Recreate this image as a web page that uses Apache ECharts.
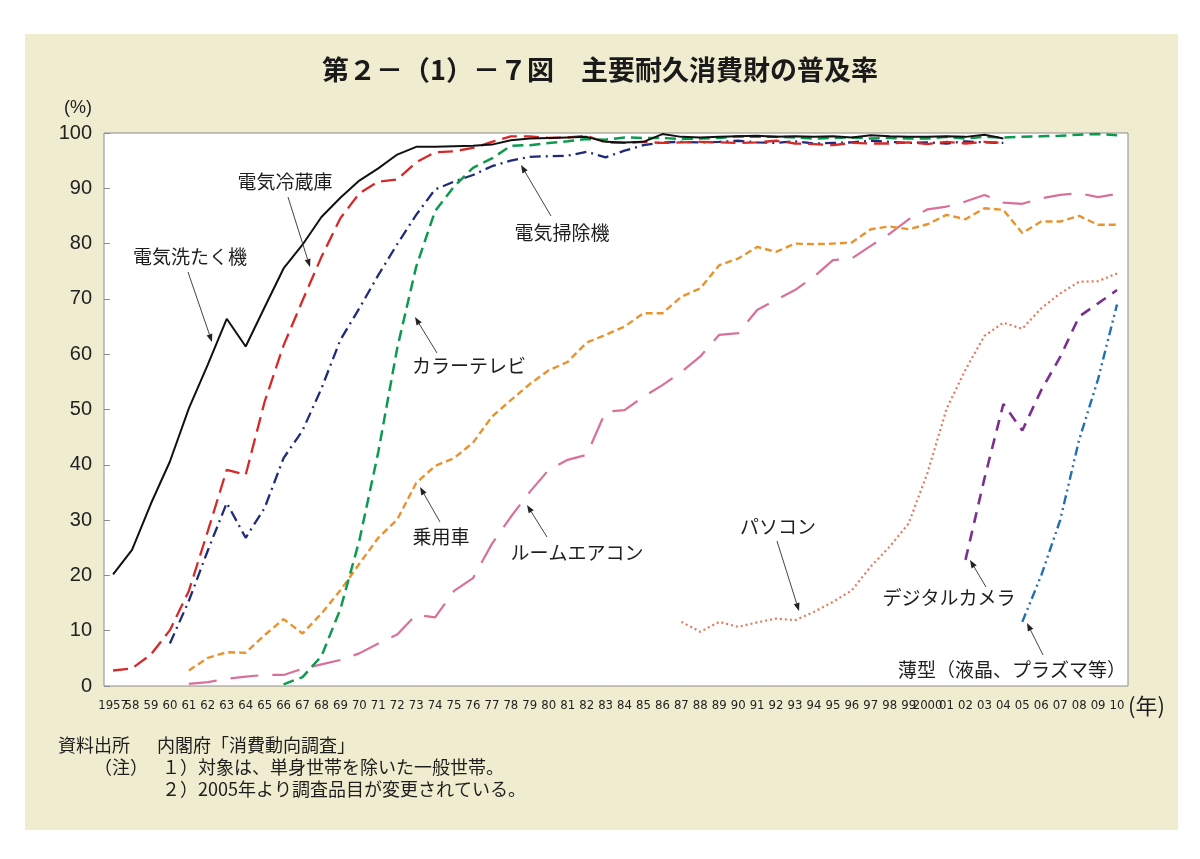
<!DOCTYPE html>
<html>
<head>
<meta charset="utf-8">
<title>主要耐久消費財の普及率</title>
<script src="https://cdn.jsdelivr.net/npm/echarts@6/dist/echarts.min.js"></script>
<style>
  html, body { margin: 0; padding: 0; background: #fff; }
  #panel { position: absolute; left: 25px; top: 34px; width: 1153px; height: 796px; background: #f0ecd0; }
  #main { position: absolute; left: 0; top: 0; width: 1200px; height: 859px; }
</style>
</head>
<body>
<div id="panel"></div>
<div id="main"></div>
<script>
// 横軸の年と目盛ラベル
var years = [1957, 1958, 1959, 1960, 1961, 1962, 1963, 1964, 1965, 1966,
             1967, 1968, 1969, 1970, 1971, 1972, 1973, 1974, 1975, 1976,
             1977, 1978, 1979, 1980, 1981, 1982, 1983, 1984, 1985, 1986,
             1987, 1988, 1989, 1990, 1991, 1992, 1993, 1994, 1995, 1996,
             1997, 1998, 1999, 2000, 2001, 2002, 2003, 2004, 2005, 2006,
             2007, 2008, 2009, 2010];
var yearLabels = ['1957', '58', '59', '60', '61', '62', '63', '64', '65', '66',
                  '67', '68', '69', '70', '71', '72', '73', '74', '75', '76',
                  '77', '78', '79', '80', '81', '82', '83', '84', '85', '86',
                  '87', '88', '89', '90', '91', '92', '93', '94', '95', '96',
                  '97', '98', '99', '2000', '01', '02', '03', '04', '05', '06',
                  '07', '08', '09', '10'];

// 普及率（%）　各系列は開始年から1年ごと
var washerStart = 1957;   // 電気洗たく機
var washer = [20.2, 24.6, 33.0, 40.6, 50.2, 58.1, 66.4, 61.4, 68.5, 75.5,
              79.8, 84.8, 88.3, 91.4, 93.6, 96.1, 97.5, 97.5, 97.6, 97.7,
              97.9, 98.7, 99.0, 99.1, 99.2, 99.3, 98.4, 98.3, 98.4, 99.8,
              99.3, 99.2, 99.3, 99.4, 99.5, 99.3, 99.4, 99.3, 99.4, 99.2,
              99.6, 99.4, 99.3, 99.3, 99.4, 99.3, 99.7, 99.0];

var fridgeStart = 1957;   // 電気冷蔵庫
var fridge = [2.8, 3.2, 5.7, 10.1, 17.2, 28.0, 39.1, 38.2, 51.4, 61.6,
              69.7, 77.6, 84.6, 89.1, 91.2, 91.6, 94.7, 96.5, 96.7, 97.3,
              98.4, 99.4, 99.4, 99.1, 99.2, 99.5, 98.3, 98.2, 98.4, 98.2,
              98.3, 98.4, 98.3, 98.2, 98.3, 98.6, 98.1, 98.0, 97.8, 98.2,
              98.1, 98.1, 98.3, 98.0, 98.4, 98.1, 98.4, 98.2];

var vacuumStart = 1960;   // 電気掃除機
var vacuum = [7.7, 15.4, 24.5, 33.1, 26.8, 32.2, 41.2,
              46.2, 53.8, 62.6, 68.3, 74.3, 79.9, 85.2, 89.8, 91.2, 92.4,
              94.0, 95.0, 95.7, 95.8, 95.9, 96.6, 95.6, 96.8, 97.8, 98.3,
              98.4, 98.3, 98.4, 98.6, 98.3, 98.2, 98.5, 98.1, 98.2, 98.3,
              98.6, 98.4, 98.2, 98.3, 98.1, 98.5, 98.3, 98.2];

var colorTvStart = 1966;  // カラーテレビ
var colorTv = [0.3, 1.6, 5.4, 13.9, 26.3, 42.3, 61.1, 75.8, 85.9, 90.3, 93.7,
               95.4, 97.7, 97.8, 98.2, 98.5, 98.9, 98.8, 99.2, 99.1, 99.1,
               98.9, 99.0, 99.1, 99.4, 99.3, 99.3, 99.2, 99.0, 99.1, 99.2,
               99.0, 99.1, 99.0, 99.0, 99.3, 99.0, 99.3, 99.2, 99.3, 99.4,
               99.5, 99.7, 99.8, 99.6];

var carStart = 1961;      // 乗用車
var car = [2.8, 5.1, 6.1, 6.0, 9.2, 12.1,
           9.5, 13.1, 17.3, 22.1, 26.8, 30.1, 36.7, 39.8, 41.2, 44.0,
           48.7, 51.7, 54.6, 57.1, 58.6, 62.1, 63.5, 65.0, 67.4, 67.4,
           70.4, 71.9, 76.1, 77.3, 79.4, 78.5, 80.0, 79.9, 80.0, 80.2,
           82.6, 83.1, 82.6, 83.5, 85.2, 84.4, 86.4, 86.1, 81.9, 84.0,
           84.0, 85.0, 83.4, 83.4];

var airconStart = 1961;   // ルームエアコン
var aircon = [0.4, 0.7, 1.3, 1.7, 2.0, 2.0,
              3.1, 3.9, 4.7, 5.9, 7.7, 9.3, 12.9, 12.4, 17.2, 19.5,
              25.7, 30.6, 35.1, 39.1, 40.9, 41.8, 49.6, 49.9, 52.3, 54.4,
              56.8, 59.6, 63.5, 63.8, 68.0, 69.8, 71.6, 74.0, 77.0, 77.3,
              79.6, 81.8, 84.4, 86.2, 86.7, 87.6, 88.8, 87.4, 87.2, 88.2,
              88.8, 89.1, 88.4, 89.0];

var pcStart = 1987;       // パソコン
var pc = [11.6, 9.8, 11.6, 10.7, 11.5, 12.2, 11.9, 13.4, 15.2, 17.3,
          21.6, 25.2, 29.4, 38.6, 50.1, 57.2, 63.3, 65.7, 64.6, 68.3,
          71.0, 73.1, 73.2, 74.6];

var cameraStart = 2002;   // デジタルカメラ
var camera = [22.8, 37.5, 51.0, 46.2, 53.5, 59.5, 66.8, 69.2, 71.6];

var flatTvStart = 2005;   // 薄型（液晶、プラズマ等）
var flatTv = [11.6, 20.0, 30.0, 44.5, 55.5, 69.0];

// 注記ラベルと矢印（画面座標）
var notes = [
  { text: '電気洗たく機', tx: 190, ty: 257, x1: 188, y1: 272, x2: 212, y2: 342 },
  { text: '電気冷蔵庫', tx: 285, ty: 182, x1: 288, y1: 197, x2: 310, y2: 267 },
  { text: '電気掃除機', tx: 562, ty: 233, x1: 551, y1: 216, x2: 521, y2: 165 },
  { text: 'カラーテレビ', tx: 469, ty: 366, x1: 437, y1: 353, x2: 415, y2: 317 },
  { text: '乗用車', tx: 441, ty: 537, x1: 440, y1: 522, x2: 420, y2: 487 },
  { text: 'ルームエアコン', tx: 577, ty: 553, x1: 547, y1: 537, x2: 527, y2: 505 },
  { text: 'パソコン', tx: 778, ty: 527, x1: 777, y1: 541, x2: 799, y2: 611 },
  { text: 'デジタルカメラ', tx: 949, ty: 598, x1: 986, y1: 587, x2: 970, y2: 560 },
  { text: '薄型（液晶、プラズマ等）', tx: 1012, ty: 670, x1: 1043, y1: 655, x2: 1027, y2: 623 }
];

var jp = '"Noto Sans CJK JP", "Noto Sans", sans-serif';
var num = '"Liberation Sans", Arial, sans-serif';
var narrow = '"Liberation Sans Narrow", "DejaVu Sans Condensed", "Liberation Sans", sans-serif';

function pairs(start, vals) {
  return vals.map(function (v, i) { return [start + i, v]; });
}

function line(name, start, vals, color, width, dash) {
  return {
    name: name,
    type: 'line',
    data: pairs(start, vals),
    symbol: 'none',
    lineStyle: { color: color, width: width, type: dash, cap: 'butt' },
    animation: false
  };
}

function arrow(n) {
  var a = Math.atan2(n.y2 - n.y1, n.x2 - n.x1);
  var len = 8, w = 3;
  var bx = n.x2 - len * Math.cos(a), by = n.y2 - len * Math.sin(a);
  var px = -Math.sin(a) * w, py = Math.cos(a) * w;
  return [
    { type: 'line', shape: { x1: n.x1, y1: n.y1, x2: bx, y2: by },
      style: { stroke: '#444', lineWidth: 1 }, z: 50 },
    { type: 'polygon', shape: { points: [[n.x2, n.y2], [bx + px, by + py], [bx - px, by - py]] },
      style: { fill: '#222' }, z: 50 }
  ];
}

function txt(s, x, y, size, align, family, weight) {
  return {
    type: 'text', x: x, y: y, z: 50,
    style: {
      text: s, fontSize: size, fontFamily: family || jp, fontWeight: weight || 'normal',
      fill: '#1e1e1e', align: align || 'center', verticalAlign: 'middle',
      textAlign: align || 'center', textVerticalAlign: 'middle'
    }
  };
}

// 年軸：1957 は隣の 58 と接するので別の軸に分けて描く
function yearAxis(values) {
  return {
    type: 'value',
    min: 1956.52,
    max: 2010.58,
    position: 'bottom',
    axisLine: { show: false },
    axisTick: { show: false },
    splitLine: { show: false },
    axisLabel: {
      customValues: values,
      formatter: function (v) { return yearLabels[years.indexOf(Math.round(v))]; },
      fontSize: 13,
      fontFamily: narrow,
      color: '#222',
      margin: 13,
      showMinLabel: true,
      showMaxLabel: true,
      hideOverlap: false
    }
  };
}

var graphics = [];
notes.forEach(function (n) {
  graphics.push(txt(n.text, n.tx, n.ty, 19));
  graphics = graphics.concat(arrow(n));
});
graphics.push(txt('(%)', 92, 108, 18, 'right', num));
graphics.push(txt('(年)', 1128, 706, 22, 'left', jp));
graphics.push(txt('資料出所', 58, 745, 18, 'left'));
graphics.push(txt('内閣府「消費動向調査」', 157, 745, 18, 'left'));
graphics.push(txt('（注）', 94, 767, 18, 'left'));
graphics.push(txt('１）対象は、単身世帯を除いた一般世帯。', 162, 767, 18, 'left'));
graphics.push(txt('２）2005年より調査品目が変更されている。', 162, 789, 18, 'left'));

var chart = echarts.init(document.getElementById('main'));
chart.setOption({
  backgroundColor: 'transparent',
  animation: false,
  title: {
    text: '第２－（1）－７図　主要耐久消費財の普及率',
    left: 'center',
    top: 51,
    textStyle: { fontSize: 27, fontWeight: 'bold', fontFamily: jp, color: '#1a1a1a' }
  },
  grid: {
    left: 104, right: 72, top: 133, bottom: 173,
    show: true, backgroundColor: '#fff', borderColor: '#8c8c8c', borderWidth: 1
  },
  xAxis: [yearAxis(years.slice(1)), yearAxis(years.slice(0, 1))],
  yAxis: {
    type: 'value',
    min: 0, max: 100, interval: 10,
    axisLine: { show: false },
    axisTick: { show: true, inside: true, length: 6, lineStyle: { color: '#8c8c8c' } },
    splitLine: { show: false },
    axisLabel: { fontSize: 20, fontFamily: num, color: '#222', margin: 12 }
  },
  series: [
    line('ルームエアコン', airconStart, aircon, '#d8709a', 2.2, [28, 14]),
    line('乗用車', carStart, car, '#e8932e', 2.4, [7, 4]),
    line('パソコン', pcStart, pc, '#e07a5c', 2.2, [2, 3]),
    line('デジタルカメラ', cameraStart, camera, '#7b2f8f', 2.6, [11, 8]),
    line('薄型（液晶、プラズマ等）', flatTvStart, flatTv, '#1f6fb2', 2.4, [9, 4, 2, 4, 2, 4]),
    line('電気掃除機', vacuumStart, vacuum, '#1f2a7a', 2.3, [11, 5, 2, 5]),
    line('カラーテレビ', colorTvStart, colorTv, '#0c9a4f', 2.5, [11, 6]),
    line('電気冷蔵庫', fridgeStart, fridge, '#d42a2a', 2.3, [15, 7]),
    line('電気洗たく機', washerStart, washer, '#111', 2, 'solid')
  ],
  graphic: graphics
});
</script>
</body>
</html>
